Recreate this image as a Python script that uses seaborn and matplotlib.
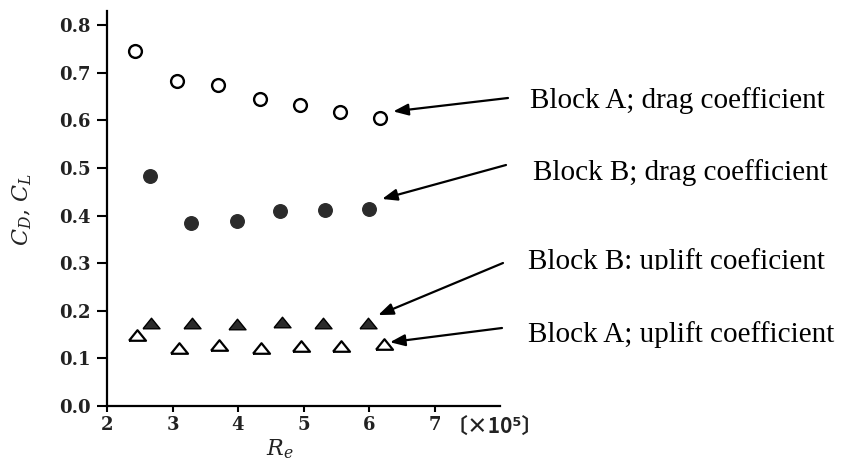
import matplotlib
matplotlib.use("Agg")
import matplotlib.pyplot as plt
import seaborn as sns
import pandas as pd
from matplotlib.transforms import Bbox, TransformedBbox

# ---- data ----
re_a_drag = [2.43, 3.07, 3.69, 4.34, 4.95, 5.56, 6.17]
cd_a = [0.746, 0.683, 0.674, 0.645, 0.632, 0.618, 0.605]

re_b_drag = [2.66, 3.28, 3.98, 4.64, 5.33, 6.00]
cd_b = [0.483, 0.385, 0.389, 0.410, 0.411, 0.413]

re_b_lift = [2.67, 3.30, 3.98, 4.67, 5.30, 5.98]
cl_b = [0.175, 0.174, 0.172, 0.177, 0.175, 0.175]

re_a_lift = [2.46, 3.10, 3.71, 4.35, 4.96, 5.57, 6.23]
cl_a = [0.149, 0.122, 0.129, 0.122, 0.127, 0.127, 0.131]

x_ticks = [2, 3, 4, 5, 6, 7]
y_ticks = [0.0, 0.1, 0.2, 0.3, 0.4, 0.5, 0.6, 0.7, 0.8]

labels = ["Block A; drag coefficient", "Block B; drag coefficient",
          "Block B: uplift coeficient", "Block A; uplift coefficient"]

sns.set_style("ticks")
plt.rcParams['font.family'] = ['DejaVu Serif', 'DejaVu Sans']
plt.rcParams['mathtext.fontset'] = 'dejavuserif'

fig = plt.figure(figsize=(8.46, 4.63), dpi=100)
ax = fig.add_axes([107/846, 57/463, (500-107)/846, (463-57-11)/463])

dark = "#2b2b2b"
tri = [(-1.0, -0.62), (1.0, -0.62), (0.0, 0.62), (-1.0, -0.62)]
df_ad = pd.DataFrame({"Re": re_a_drag, "C": cd_a})
df_bd = pd.DataFrame({"Re": re_b_drag, "C": cd_b})
df_bl = pd.DataFrame({"Re": re_b_lift, "C": cl_b})
df_al = pd.DataFrame({"Re": re_a_lift, "C": cl_a})

sns.scatterplot(data=df_ad, x="Re", y="C", ax=ax, marker="o", s=85,
                facecolor="white", edgecolor="black", linewidth=1.7, zorder=3)
sns.scatterplot(data=df_bd, x="Re", y="C", ax=ax, marker="o", s=95,
                color=dark, edgecolor=dark, linewidth=1.0, zorder=3)
sns.scatterplot(data=df_bl, x="Re", y="C", ax=ax, marker=tri, s=150,
                color=dark, edgecolor="black", linewidth=1.0, zorder=3)
sns.scatterplot(data=df_al, x="Re", y="C", ax=ax, marker=tri, s=150,
                facecolor="white", edgecolor="black", linewidth=1.6, zorder=3)

ax.set_xlim(2, 8.0)
ax.set_ylim(0, 0.83)
ax.set_xticks(x_ticks)
ax.set_yticks(y_ticks)
ax.set_xticklabels([str(v) for v in x_ticks])
ax.set_yticklabels([f"{v:.1f}" for v in y_ticks])
sns.despine(ax=ax)
for sp in ("left", "bottom"):
    ax.spines[sp].set_linewidth(1.6)
    ax.spines[sp].set_color("black")
ax.tick_params(axis="y", direction="out", length=7.5, width=1.5, pad=4,
               labelsize=13, colors="black")
ax.tick_params(axis="x", direction="out", length=4.5, width=1.5, pad=3,
               labelsize=13, colors="black")
for lab in ax.get_xticklabels() + ax.get_yticklabels():
    lab.set_fontweight("bold")
    lab.set_color("#222222")

ax.set_xlabel("")
ax.set_ylabel("")
fig.text(280/846, 1 - 449/463, r"$R_e$", fontsize=16, ha="center",
         va="center", color="#222222")
fig.text(22/846, 1 - 210/463, r"$C_D$, $C_L$", fontsize=16, rotation=90,
         ha="center", va="center", color="#222222")
fig.text(447/846, 1 - 426/463, "〔×10⁵〕", fontsize=15,
         family=['Noto Sans CJK JP', 'DejaVu Sans'], ha="left", va="center",
         color="#222222", fontweight="bold")

# arrows: tips in data coords, tails in figure pixels (from top)
tips = [(6.37, 0.619), (6.20, 0.435), (6.14, 0.191), (6.32, 0.134)]
tails = [(508, 98), (506, 165), (503, 263), (502, 328)]
for (tx, ty), (px, py) in zip(tips, tails):
    ax.annotate("", xy=(tx, ty), xycoords="data",
                xytext=(px/846, 1 - py/463), textcoords="figure fraction",
                arrowprops=dict(arrowstyle="-|>,head_length=0.9,head_width=0.35",
                                lw=1.6, color="black", shrinkA=0, shrinkB=0),
                annotation_clip=False)

text_pos = [(530, 108), (533, 180), (528, 269), (528, 342)]
for i, (lab, (px, py)) in enumerate(zip(labels, text_pos)):
    t = fig.text(px/846, 1 - py/463, lab, fontsize=21,
                 family=["Liberation Serif", "DejaVu Serif"],
                 ha="left", va="baseline", color="black")
    if i == 2:
        bb = TransformedBbox(Bbox([[0, 1 - 270/463], [1, 1]]), fig.transFigure)
        t.set_clip_box(bb)
        t.set_clip_on(True)

fig.savefig("out.png", dpi=100)
